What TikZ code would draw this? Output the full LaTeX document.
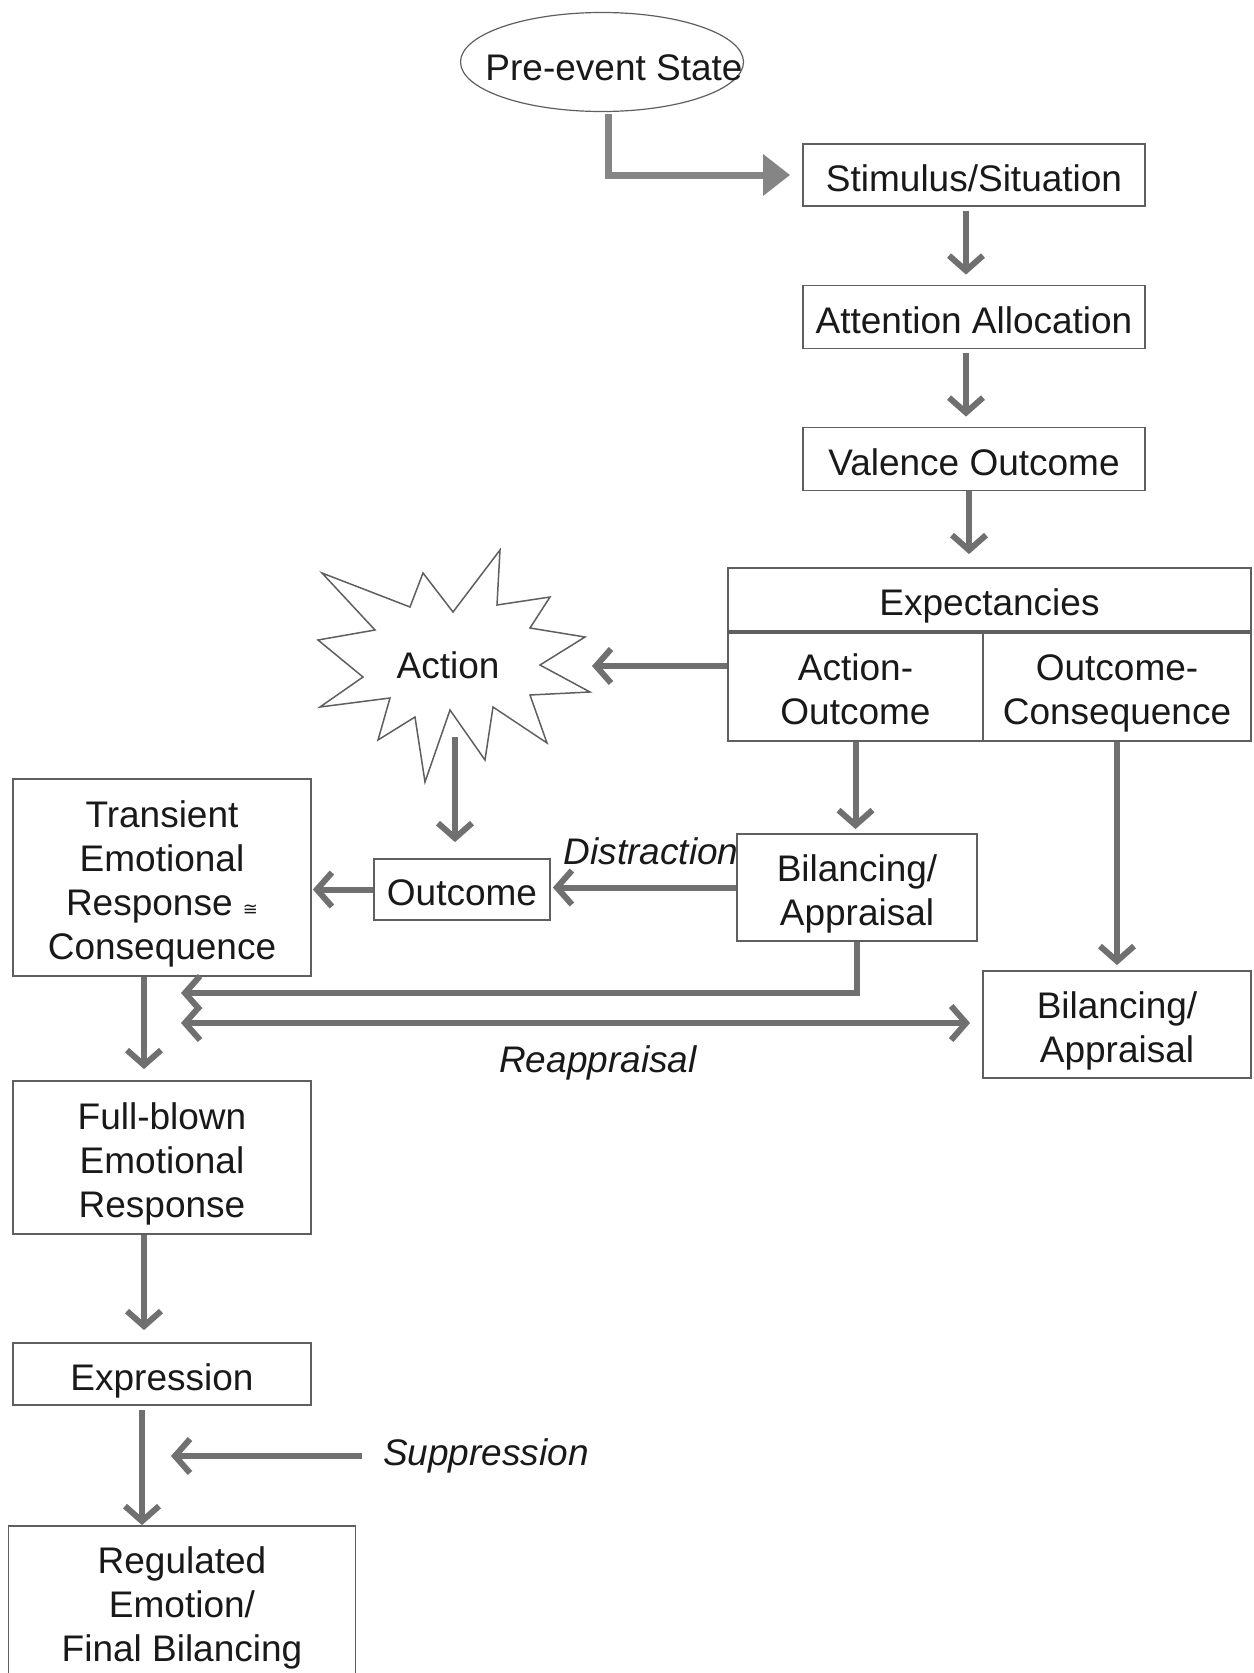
\documentclass[tikz,border=0pt]{standalone}
\usepackage{fontspec}
\setmainfont{Liberation Sans}
\newfontfamily\symfont{DejaVu Sans}
\usetikzlibrary{arrows.meta}
\usetikzlibrary{positioning}
\usetikzlibrary{shapes.geometric}
\definecolor{BoxEdge}{RGB}{95,95,95}
\definecolor{ArrowGrey}{RGB}{112,112,112}
\definecolor{InkBlack}{RGB}{25,25,25}
\newcommand{\boxfont}{\fontsize{37}{44}\selectfont}
\newcommand{\lift}{\rule{0pt}{40pt}}

\begin{document}
\begin{tikzpicture}[
  x=1pt, y=-1pt,
  node distance=142pt,
  on grid,
  barb/.tip={Straight Barb[length=15pt,width=34pt]},
  box/.style={draw=BoxEdge, line width=1.8pt, fill=white, text=InkBlack,
    font=\boxfont, align=center, inner sep=0pt,
    execute at begin node={\lift},
    execute at end node={\rule[-8pt]{0pt}{8pt}}},
  cue/.style={font=\boxfont\itshape, text=InkBlack, inner sep=0pt},
  link/.style={ArrowGrey, line width=6pt, -barb},
  twoway/.style={draw=ArrowGrey, line width=6pt, barb-barb},
  bigarrow/.style={draw=ArrowGrey!85, line width=7pt,
    -{Triangle[length=27pt,width=40pt]}, shorten >=12pt, shorten <=2pt},
  starline/.style={draw=BoxEdge, line width=1.5pt, fill=white, line join=miter},
  ]
\useasboundingbox (0,0) rectangle (1253,1673);
\clip (0,0) rectangle (1253,1673);

% right column
\node [ellipse, draw=BoxEdge, line width=1.2pt, fill=white, text=InkBlack, font=\boxfont,
  minimum width=283pt, minimum height=99pt, inner sep=0pt, text height=37pt, text depth=0pt]
  (pre) at (602,62) {\makebox[0pt]{\hspace*{24pt}Pre-event State}};
\node [box, minimum width=342pt, minimum height=62pt] (stim) at (974,175) {Stimulus/Situation};
\node [box, minimum width=342pt, minimum height=63pt] (att) [below=of stim] {Attention Allocation};
\node [box, minimum width=342pt, minimum height=63pt] (val) [below=of att] {Valence Outcome};

\node [box, minimum width=523pt, minimum height=63pt] (expH) at (989.5,599.5) {Expectancies};
\node [box, minimum width=255pt, minimum height=108pt, anchor=north west] (expA) at (expH.south west) {\lift Action-\\Outcome};
\node [box, minimum width=268pt, minimum height=108pt, anchor=north east] (expO) at (expH.south east) {\lift Outcome-\\Consequence};

% action burst
\draw [starline] (500,550) -- (497,605) -- (550,597) -- (530,628) -- (585,637) -- (540,665)
  -- (590,692) -- (530,695) -- (547,743) -- (493,707) -- (485,760) -- (450,710)
  -- (425,782) -- (415,717) -- (378,740) -- (390,698) -- (320,707) -- (363,677)
  -- (318,640) -- (375,630) -- (322,573) -- (410,607) -- (423,573) -- (453,612) -- cycle;
\node [font=\boxfont, text=InkBlack] (act) at (448,665) {Action};
\coordinate (actR) at (592,666);
\coordinate (actB) at (455,737);

% middle row
\node [box, minimum width=298pt, minimum height=197pt] (trans) at (162,877.5)
  {\lift Transient\\Emotional\\Response {\symfont\fontsize{18}{18}\selectfont ≅}\\Consequence};
\node [box, minimum width=176pt, minimum height=61pt] (outc) at (462,889.5) {Outcome};
\node [box, minimum width=240pt, minimum height=107pt] (bil1) at (857,887.5) {\lift Bilancing/\\Appraisal};
\node [box, minimum width=268pt, minimum height=107pt] (bil2) at (1117,1024.5) {\lift Bilancing/\\Appraisal};

% left column
\node [box, minimum width=298pt, minimum height=153pt] (full) at (162,1157.5) {\lift Full-blown\\Emotional\\Response};
\node [box, minimum width=298pt, minimum height=62pt] (expr) at (162,1374) {Expression};
\node [box, minimum width=347pt, minimum height=150pt] (reg) at (182,1601) {\lift Regulated\\Emotion/\\Final Bilancing};

\node [cue] (dist) at (651,851) {Distraction};
\node [cue] (reap) at (598,1063) {Reappraisal};
\node [cue] (supp) at (486,1456) {Suppression};
\coordinate (reA) at (181,993);
\coordinate (reB) at (181,1023);
\coordinate (suppE) at (171,1456);

\draw [bigarrow] ([xshift=6pt]pre.south) |- (stim.west);

\path [link]
([xshift=-8pt]stim.south) edge [shorten <=4pt, shorten >=10pt] ([xshift=-8pt]att.north)
([xshift=-8pt]att.south) edge [shorten <=4pt, shorten >=10pt] ([xshift=-8pt]val.north)
([xshift=-5pt]val.south) edge [shorten >=13pt] ([xshift=-5pt]val.south |- expH.north)
(expA.west |- actR) edge (actR)
(actB) edge [shorten >=16pt] (actB |- outc.north)
(expA.south) edge [shorten >=4pt] (expA.south |- bil1.north)
(expO.south) edge [shorten >=5pt] (bil2.north)
(bil1.west) edge [shorten >=2pt] (bil1.west -| outc.east)
(outc.west) edge [shorten >=1pt] (outc.west -| trans.east)
([xshift=-18pt]trans.south) edge [shorten >=11pt] ([xshift=-18pt]full.north)
([xshift=-18pt]full.south) edge [shorten >=12pt] ([xshift=-18pt]expr.north)
([xshift=-20pt]expr.south) edge [shorten <=4pt] ([xshift=-20pt]expr.south |- reg.north)
([xshift=-21pt]supp.west) edge (suppE);
\draw [link] (bil1.south) |- (reA);
\draw [twoway, shorten >=12pt] (reB) -- (reB -| bil2.west);
\end{tikzpicture}
\end{document}
